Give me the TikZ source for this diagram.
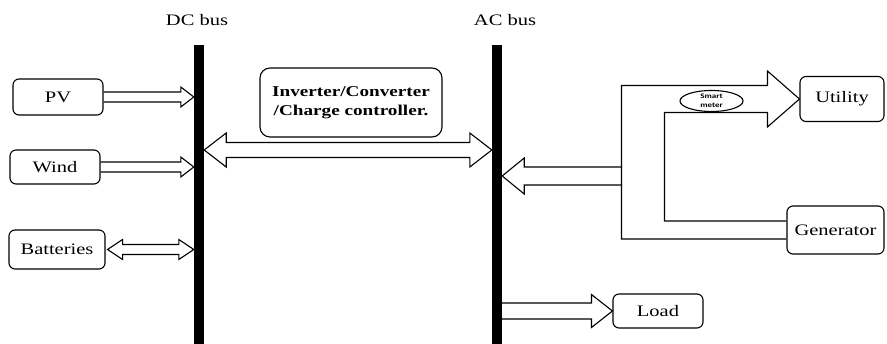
\documentclass[tikz,border=0pt]{standalone}
\usepackage{fontspec}
\setmainfont{Liberation Serif}
\newfontfamily\metersf{Carlito}
\usetikzlibrary{calc,shapes.geometric}
\newcommand{\widen}[1]{\scalebox{1.28}[1]{#1}}
% right-pointing hollow arrow: start, tip, shaft half, head half, head length
\newcommand{\rarrow}[5]{\draw[arr] ($(#1)+(0,-#3)$) -- ($(#2)+(-#5,-#3)$) -- ($(#2)+(-#5,-#4)$) -- (#2) -- ($(#2)+(-#5,#4)$) -- ($(#2)+(-#5,#3)$) -- ($(#1)+(0,#3)$);}
% left-pointing hollow arrow
\newcommand{\larrow}[5]{\draw[arr] ($(#1)+(0,-#3)$) -- ($(#2)+(#5,-#3)$) -- ($(#2)+(#5,-#4)$) -- (#2) -- ($(#2)+(#5,#4)$) -- ($(#2)+(#5,#3)$) -- ($(#1)+(0,#3)$);}
% double hollow arrow: left tip, right tip
\newcommand{\darrow}[5]{\draw[arr] (#1) -- ($(#1)+(#5,-#4)$) -- ($(#1)+(#5,-#3)$) -- ($(#2)+(-#5,-#3)$) -- ($(#2)+(-#5,-#4)$) -- (#2) -- ($(#2)+(-#5,#4)$) -- ($(#2)+(-#5,#3)$) -- ($(#1)+(#5,#3)$) -- ($(#1)+(#5,#4)$) -- cycle;}
\begin{document}
\begin{tikzpicture}[x=1pt,y=-1pt,
  box/.style={draw, line width=1.1pt, rounded corners=6pt, inner sep=0pt, font=\fontsize{16}{18}\selectfont},
  bus/.style={fill=black, inner sep=0pt, minimum width=10pt, minimum height=299pt},
  arr/.style={draw, line width=1.1pt, line join=miter},
  lbl/.style={inner sep=0pt, font=\fontsize{16}{18}\selectfont}]
\useasboundingbox (0,0) rectangle (887,344);
% buses
\node[bus] (dc) at (199,194.5) {};
\node[bus] (ac) at (497,194.5) {};
\node[lbl] (dcl) at (197,20) {\widen{DC bus}};
\node[lbl] (acl) at (505,20) {\widen{AC bus}};
% boxes
\node[box, minimum width=90pt, minimum height=36pt] (pv) at (58,97) {\widen{PV}};
\node[box, minimum width=90pt, minimum height=34pt] (wind) at (55,167) {\widen{Wind}};
\node[box, minimum width=96pt, minimum height=39pt] (batt) at (57,249.5) {\widen{Batteries}};
\node[box, rounded corners=10pt, minimum width=182pt, minimum height=69pt, align=center,
      font=\bfseries\fontsize{15}{19}\selectfont] (inv) at (351,102.5)
      {\widen{Inverter/Converter}\\\widen{/Charge controller.}};
\node[box, minimum width=84pt, minimum height=45pt] (util) at (842,99) {\widen{Utility}};
\node[box, minimum width=97pt, minimum height=48pt] (gen) at (835.5,230) {\widen{Generator}};
\node[box, minimum width=90pt, minimum height=34pt] (load) at (658,311) {\widen{Load}};
% DC side arrows
\coordinate (pvtip) at (pv.east -| dc.west);
\rarrow{pv.east}{pvtip}{5}{10}{13}
\coordinate (windtip) at (wind.east -| dc.west);
\rarrow{wind.east}{windtip}{5}{10}{13}
\coordinate (battl) at ($(batt.east)+(2,0)$);
\coordinate (battr) at (batt.east -| dc.west);
\darrow{battl}{battr}{5}{10}{15}
% inverter double arrow
\coordinate (invline) at (350,150);
\coordinate (invl) at (invline -| dc.east);
\coordinate (invr) at (invline -| ac.west);
\darrow{invl}{invr}{7.5}{17}{22}
% feed into AC bus
\coordinate (feed) at (622,176);
\coordinate (feedtip) at (feed -| ac.east);
\larrow{feed}{feedtip}{9}{18}{22}
% load arrow
\coordinate (loadsrc) at (load.west -| ac.east);
\rarrow{loadsrc}{load.west}{8}{16.5}{21}
% utility / generator structure
\draw[arr] ($(gen.west)+(0,-9)$) -- ($(gen.west)+(-122,-9)$) -- ($(util.west)+(-135,13.5)$)
  -- ($(util.west)+(-32,13.5)$) -- ($(util.west)+(-32,28)$) -- (util.west)
  -- ($(util.west)+(-32,-28)$) -- ($(util.west)+(-32,-13.5)$) -- ($(util.west)+(-178,-13.5)$)
  -- ($(gen.west)+(-165,9)$) -- ($(gen.west)+(0,9)$);
\node[draw, ellipse, line width=1.1pt, fill=white, minimum width=63pt, minimum height=21pt, inner sep=0pt,
      align=center, font=\metersf\bfseries\fontsize{7}{9}\selectfont] (meter) at (711.5,101)
      {\scalebox{1.28}[1]{Smart}\\\scalebox{1.28}[1]{meter}};
\end{tikzpicture}
\end{document}
